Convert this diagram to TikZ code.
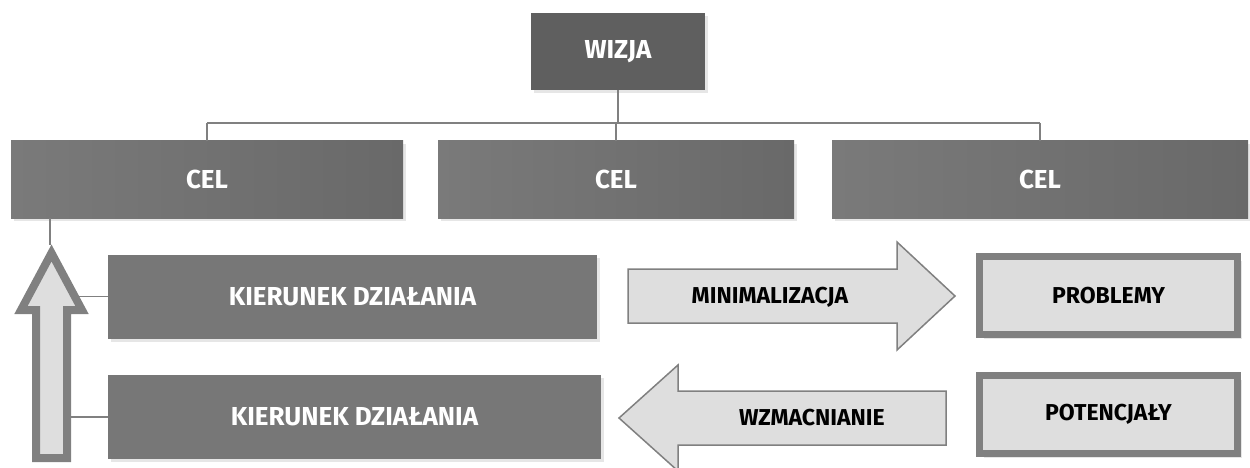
\documentclass[tikz,border=0pt]{standalone}
\usepackage{fontspec}
\setmainfont{Fira Sans}
\usetikzlibrary{shadows}
\definecolor{wizjagray}{HTML}{5F5F5F}
\definecolor{celleft}{HTML}{7A7A7A}
\definecolor{celright}{HTML}{696969}
\definecolor{kiergray}{HTML}{777777}
\definecolor{linegray}{HTML}{808080}
\definecolor{lightfill}{HTML}{DEDEDE}

\begin{document}
\begin{tikzpicture}[x=1pt,y=-1pt,
    darkbox/.style={rectangle,inner sep=0,text=white,
        font=\bfseries\fontsize{26}{30}\selectfont,
        drop shadow={shadow xshift=3pt,shadow yshift=-3pt,opacity=0.2}},
    framebox/.style={rectangle,inner sep=0,draw=linegray,line width=7,fill=lightfill,
        font=\bfseries\fontsize{23}{27}\selectfont,
        drop shadow={shadow xshift=4pt,shadow yshift=-4pt,opacity=0.2}},
    lighttext/.style={inner sep=0,font=\bfseries\fontsize{23}{27}\selectfont},
    link/.style={draw=linegray,line width=1.5},
    flatarrow/.style={draw=linegray,line width=1.5,fill=lightfill},
    uparrow/.style={draw=linegray,line width=8,fill=lightfill,
        drop shadow={shadow xshift=3pt,shadow yshift=-3pt,opacity=0.2}}]
    \pgfmathsetmacro{\celheight}{77}
    \pgfmathsetmacro{\kierheight}{84}
    \pgfmathsetmacro{\frameheight}{78}
    \pgfmathsetmacro{\framewidth}{258}
    \useasboundingbox (0,0) rectangle (1250,468);

    \node[darkbox,fill=wizjagray,minimum width=174,minimum height=\celheight] (wizja) at (618,51.5) {WIZJA};

    \node[darkbox,left color=celleft,right color=celright,minimum width=392,minimum height=\celheight] (cel1) at (207,179.5) {CEL};
    \node[darkbox,left color=celleft,right color=celright,minimum width=356,minimum height=\celheight] (cel2) at (616,179.5) {CEL};
    \node[darkbox,left color=celleft,right color=celright,minimum width=416,minimum height=\celheight] (cel3) at (1040,179.5) {CEL};

    \node[darkbox,fill=kiergray,minimum width=489,minimum height=\kierheight] (kier1) at (352.5,296.5) {KIERUNEK DZIAŁANIA};
    \node[darkbox,fill=kiergray,minimum width=493,minimum height=\kierheight] (kier2) at (354.5,417) {KIERUNEK DZIAŁANIA};

    \node[framebox,minimum width=\framewidth,minimum height=\frameheight] (problemy) at (1108.5,295.5) {PROBLEMY};
    \node[framebox,minimum width=\framewidth,minimum height=\frameheight] (potencjaly) at (1108.5,414.5) {POTENCJAŁY};

    \coordinate (bus) at (0,123);
    \draw[link] (wizja.south) -- (wizja.south |- bus);
    \draw[link] (cel1.north |- bus) -- (cel3.north |- bus);
    \foreach \c in {cel1,cel2,cel3}
        \draw[link] (\c.north |- bus) -- (\c.north);

    \draw[uparrow] (51.5,253) -- (82,310) -- (67,310) -- (67,458) -- (36,458) -- (36,310) -- (21,310) -- cycle;
    \coordinate (uptip) at (50,245);
    \coordinate (shaft) at (71,0);
    \draw[link] (uptip |- cel1.south) -- (uptip);
    \draw[link] (shaft |- kier1.west) -- (kier1.west);
    \draw[link] (shaft |- kier2.west) -- (kier2.west);

    \draw[flatarrow] (628,269) -- (897,269) -- (897,242) -- (955,296) -- (897,350) -- (897,323) -- (628,323) -- cycle;
    \node[lighttext] (minimalizacja) at (770,297) {MINIMALIZACJA};
    \draw[flatarrow] (946,391) -- (678,391) -- (678,365) -- (619,418) -- (678,471) -- (678,445) -- (946,445) -- cycle;
    \node[lighttext] (wzmacnianie) at (812,418) {WZMACNIANIE};
\end{tikzpicture}
\end{document}
